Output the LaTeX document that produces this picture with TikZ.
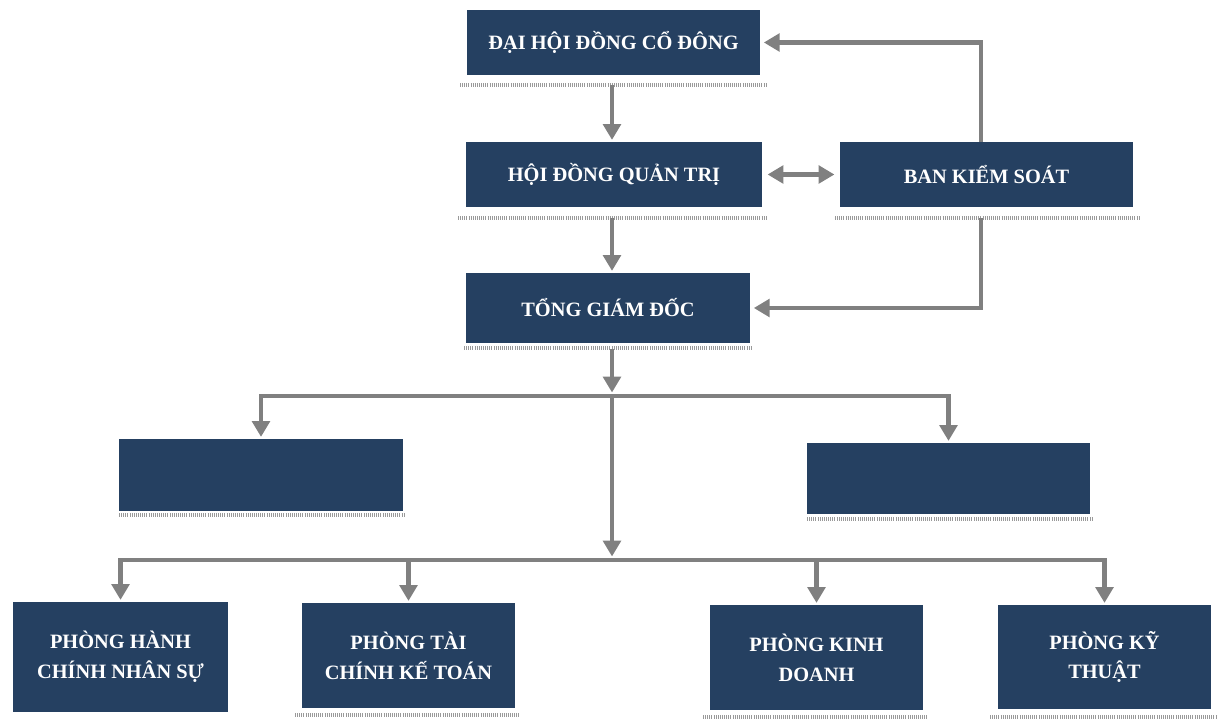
\documentclass[tikz,border=0pt]{standalone}
\usepackage{fontspec}
\setmainfont{Liberation Serif}
\usetikzlibrary{arrows.meta}
\definecolor{boxnavy}{RGB}{37,64,97}
\definecolor{linkgray}{RGB}{128,128,128}
\tikzset{
  unit/.style={fill=boxnavy, text=white, align=center, inner sep=0pt, font=\bfseries\fontsize{11.6}{17}\selectfont},
  link/.style={draw=linkgray, line width=2.3pt, -{Triangle[width=10pt,length=9pt]}},
  twolink/.style={draw=linkgray, line width=2.3pt, {Triangle[width=10pt,length=9pt]}-{Triangle[width=10pt,length=9pt]}},
  bus/.style={draw=linkgray, line width=2.3pt, line cap=rect},
  shadeline/.style={draw=gray!80, line width=2pt, dash pattern=on 0.5pt off 0.7pt}
}

\begin{document}
\begin{tikzpicture}[x=0.02cm,y=-0.02cm]
  \useasboundingbox (0,0) rectangle (1218,719);

  \node[unit, minimum width=5.86cm, minimum height=1.3cm] (dhdcd) at (613.5,42.5) {ĐẠI HỘI ĐỒNG CỔ ĐÔNG};
  \node[unit, minimum width=5.92cm, minimum height=1.3cm] (hdqt) at (614,174.5) {HỘI ĐỒNG QUẢN TRỊ};
  \node[unit, minimum width=5.86cm, minimum height=1.3cm] (bks) at (986.5,174.5) {BAN KIỂM SOÁT};
  \node[unit, minimum width=5.68cm, minimum height=1.4cm] (tgd) at (608,308) {TỔNG GIÁM ĐỐC};
  \node[unit, minimum width=5.68cm, minimum height=1.44cm] (blankL) at (261,475) {};
  \node[unit, minimum width=5.66cm, minimum height=1.42cm] (blankR) at (948.5,478.5) {};
  \node[unit, minimum width=4.3cm, minimum height=2.2cm] (phcns) at (120.5,657) {PHÒNG HÀNH\\CHÍNH NHÂN SỰ};
  \node[unit, minimum width=4.26cm, minimum height=2.1cm] (ptckt) at (408.5,655.5) {PHÒNG TÀI\\CHÍNH KẾ TOÁN};
  \node[unit, minimum width=4.26cm, minimum height=2.1cm] (pkd) at (816.5,657.5) {PHÒNG KINH\\DOANH};
  \node[unit, minimum width=4.26cm, minimum height=2.08cm] (pkt) at (1104.5,657) {PHÒNG KỸ\\THUẬT};

  \draw[shadeline] (460,85) -- (767,85);
  \draw[shadeline] (458,218) -- (766,218);
  \draw[shadeline] (835,218) -- (1140,218);
  \draw[shadeline] (464,348) -- (752,348);
  \draw[shadeline] (119,515) -- (404,515);
  \draw[shadeline] (807,519) -- (1092,519);
  \draw[shadeline] (295,715) -- (520,715);
  \draw[shadeline] (703,717) -- (928,717);
  \draw[shadeline] (990,717) -- (1218,717);

  \coordinate (spine) at (612,396);
  \coordinate (lowspine) at (612,560);

  \draw[link, shorten <=5.5pt, shorten >=1pt] (dhdcd.south -| spine) -- (hdqt.north -| spine);
  \draw[link, shorten <=6pt, shorten >=1pt] (hdqt.south -| spine) -- (tgd.north -| spine);
  \draw[twolink, shorten <=3pt, shorten >=3pt] (hdqt.east) -- (bks.west);
  \draw[link, shorten >=2pt] ([xshift=-0.11cm]bks.north) |- (dhdcd.east);
  \draw[link, shorten <=6pt, shorten >=2pt] ([xshift=-0.11cm]bks.south) |- (tgd.east);

  \draw[link, shorten <=3pt, shorten >=2pt] (tgd.south -| spine) -- (spine);
  \draw[bus] (blankL.north |- spine) -- (blankR.north |- spine);
  \draw[link, shorten >=1pt] (blankL.north |- spine) -- (blankL.north);
  \draw[link, shorten >=1pt] (blankR.north |- spine) -- (blankR.north);

  \draw[link, shorten >=2pt] (spine) -- (lowspine);
  \draw[bus] (phcns.north |- lowspine) -- (pkt.north |- lowspine);
  \draw[link, shorten >=1pt] (phcns.north |- lowspine) -- (phcns.north);
  \draw[link, shorten >=1pt] (ptckt.north |- lowspine) -- (ptckt.north);
  \draw[link, shorten >=1pt] (pkd.north |- lowspine) -- (pkd.north);
  \draw[link, shorten >=1pt] (pkt.north |- lowspine) -- (pkt.north);
\end{tikzpicture}
\end{document}
